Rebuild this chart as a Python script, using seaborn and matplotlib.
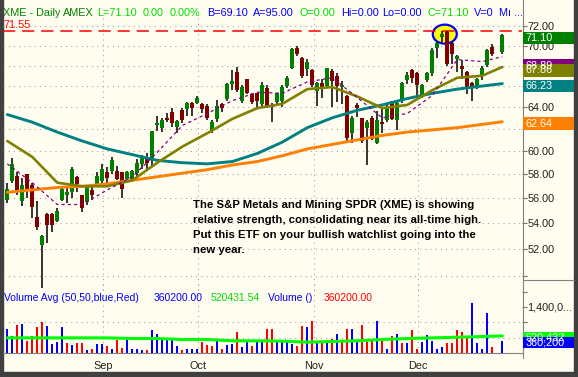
#!/usr/bin/env python3
# -*- coding: utf-8 -*-

# Grafico diario do XME (candles + medias + volume), recriado a partir da imagem

#Bibliotecas
import numpy as np
import pandas as pd
import seaborn as sns
import matplotlib.pyplot as plt
from matplotlib import transforms
from matplotlib.patches import Rectangle, Ellipse
from matplotlib.lines import Line2D
from matplotlib.ticker import NullLocator

# Dados (um candle por pregao, None = dia sem pregao)
v_abertura = [55.9, 57.4, 57.9, 55.8, 58.0, 57.1, 54.5, 52.3, 54.7, 54.7,
              54.2, 55.9, 56.3, 56.5, 57.8, 56.3, 55.7, 56.7, 57.2, 57.4,
              58.2, 58.3, 58.3, 58.2, 57.6, 57.6, 58.1, 58.9, 59.3, 59.4,
              62.3, 62.1, 63.0, 63.5, 62.2, 63.7, 63.8, 64.4, 64.4, 64.3,
              64.1, 61.8, 62.9, 64.3, 64.8, 66.2, 67.4, 64.6, 66.7, 65.2,
              65.3, 64.3, 65.8, 64.2, 64.5, 64.6, 66.0, 67.8, 69.8, 68.8,
              67.7, 67.6, 65.5, 66.3, 66.0, 67.5, 67.0, 65.9, 65.0, 61.6,
              64.2, 63.0, 62.1, 63.0, 60.7, 62.6, 62.8, 64.6, 62.8, 64.6,
              66.6, 67.6, 67.3, 65.1, 66.6, 67.3, 69.8, 70.9, 71.4, 70.3,
              68.7, 68.0, 67.4, 66.3, 65.8, 67.0, 68.1, 69.9, None, 69.4]
v_maxima = [57.3, 59.4, 58.2, 57.7, 58.0, 57.3, 55.8, 53.1, 54.8, 54.8,
            55.2, 57.0, 57.0, 58.6, 57.9, 56.3, 57.0, 56.9, 58.2, 58.9,
            58.6, 59.5, 58.7, 58.2, 58.3, 58.4, 59.3, 59.7, 59.8, 61.8,
            63.2, 63.0, 63.4, 63.9, 62.8, 63.9, 64.5, 64.5, 65.0, 64.4,
            64.3, 62.8, 64.7, 64.4, 66.3, 67.6, 67.9, 66.1, 66.7, 65.3,
            65.3, 66.4, 66.1, 64.4, 65.3, 66.1, 67.0, 69.8, 70.0, 68.9,
            68.7, 67.7, 66.4, 66.7, 67.8, 67.7, 67.3, 66.5, 65.1, 63.2,
            64.4, 63.0, 62.8, 63.2, 63.6, 64.0, 64.2, 64.6, 64.7, 66.4,
            67.4, 67.7, 67.4, 66.2, 67.4, 69.8, 70.4, 71.5, 71.55, 70.4,
            69.1, 68.6, 67.5, 66.4, 66.8, 68.0, 69.7, 70.2, None, 71.2]
v_minima = [55.6, 57.3, 56.3, 55.4, 56.0, 54.4, 53.5, 49.1, 52.5, 53.3,
            54.1, 55.8, 55.6, 56.0, 56.5, 54.9, 55.5, 55.9, 56.9, 56.9,
            57.3, 58.0, 57.5, 56.0, 57.4, 57.5, 57.9, 58.5, 58.5, 58.6,
            61.8, 61.7, 62.6, 62.2, 61.6, 62.5, 63.2, 63.2, 64.3, 63.4,
            62.8, 61.6, 62.6, 63.5, 64.6, 65.6, 65.4, 64.4, 65.2, 64.3,
            63.9, 64.1, 63.9, 62.6, 64.1, 64.0, 65.8, 67.7, 69.0, 66.8,
            67.0, 65.9, 64.1, 64.9, 65.9, 64.0, 64.5, 64.3, 60.7, 60.7,
            63.1, 60.7, 58.8, 61.0, 60.6, 61.6, 62.6, 62.8, 61.9, 64.4,
            66.2, 66.3, 65.0, 64.9, 66.4, 67.0, 68.8, 70.4, 68.0, 68.2,
            67.4, 66.7, 65.2, 64.6, 65.7, 66.6, 67.9, 69.0, None, 69.2]
v_fechamento = [56.8, 58.9, 56.7, 57.1, 56.8, 55.3, 53.7, 53.0, 53.9, 53.9,
                55.0, 56.8, 56.5, 58.5, 57.2, 55.2, 56.9, 56.3, 57.9, 58.5,
                57.7, 59.2, 57.6, 56.8, 58.2, 58.3, 59.0, 59.5, 59.0, 61.8,
                62.5, 62.8, 62.8, 62.5, 62.7, 62.8, 64.4, 63.9, 64.9, 63.8,
                63.0, 62.6, 64.1, 63.9, 66.2, 66.5, 65.6, 65.9, 65.3, 64.5,
                64.6, 66.1, 64.1, 64.0, 65.3, 65.9, 66.8, 69.7, 69.2, 67.0,
                68.4, 66.1, 66.3, 65.9, 67.8, 66.5, 66.0, 66.1, 61.2, 63.0,
                63.9, 60.9, 62.6, 61.1, 62.8, 62.4, 63.9, 62.9, 64.4, 66.3,
                67.1, 66.8, 66.1, 66.1, 67.3, 69.6, 70.3, 71.2, 68.2, 69.2,
                69.0, 67.7, 65.8, 66.0, 66.7, 67.8, 69.6, 69.2, None, 71.1]
v_volume = [740000, 510000, 860000, 870000, 350000, 510000, 790000, 930000, 810000, 280000,
            330000, 780000, 300000, 230000, 300000, 300000, 100000, 110000, 260000, 260000,
            200000, 110000, 410000, 150000, 410000, 110000, 110000, 80000, 80000, 690000,
            590000, 380000, 380000, 380000, 210000, 80000, 130000, 110000, 130000, 330000,
            230000, 210000, 440000, 130000, 250000, 260000, 640000, 180000, 380000, 210000,
            410000, 410000, 740000, 720000, 360000, 330000, 330000, 260000, 210000, 810000,
            790000, 970000, 360000, 310000, 330000, 440000, 570000, 360000, 740000, 740000,
            330000, 840000, 440000, 380000, 960000, 410000, 110000, 510000, 570000, 310000,
            310000, 690000, 130000, 330000, 540000, 350000, 130000, 180000, 300000, 300000,
            690000, 640000, 490000, 1520000, 300000, 130000, 1220000, 180000, None, 360200]
# b = volume azul (alta), r = volume vermelho (baixa), - = sem pregao
v_cor_volume = ("bbrbrrrrbb" "bbrbrrbrbb" "rbrrbbbbrb" "bbbbbrbbb" +
                "rrrbrbbrbbrbbrrbbbbrr" + "brbrbrbrrbbrrrbrbrbr" +
                "brrbbbbbrrrrrbbbbr" + "-b")

# Medias moveis lidas a cada 5 pregoes
v_idx_media = [0, 5, 10, 15, 20, 25, 30, 35, 40, 45, 50, 55, 60, 65, 70, 75, 80, 85, 90, 95, 99]
v_media_10 = [58.9, 57.3, 55.5, 55.5, 56.7, 57.8, 59.9, 62.3, 63.4, 64.6, 65.4,
              65.3, 66.4, 66.8, 64.9, 63.0, 63.4, 65.1, 68.6, 68.4, 68.9]
v_media_20 = [60.9, 59.5, 57.3, 57.0, 57.0, 57.5, 59.0, 60.4, 61.6, 62.9, 63.9,
              64.3, 65.7, 65.9, 65.0, 63.9, 64.2, 65.6, 66.8, 67.0, 67.86]
v_media_50 = [63.3, 62.6, 61.7, 60.9, 60.2, 59.7, 59.2, 59.0, 58.9, 59.1, 59.8,
              60.8, 62.1, 63.0, 63.7, 64.2, 64.8, 65.3, 65.7, 66.0, 66.23]
v_media_200 = [56.5, 56.7, 56.9, 57.0, 57.2, 57.5, 57.8, 58.1, 58.4, 58.8, 59.1,
               59.6, 60.2, 60.6, 61.0, 61.4, 61.7, 61.9, 62.1, 62.4, 62.64]
v_media_volume = [460000, 460000, 460000, 460000, 460000, 440000, 440000, 410000, 410000, 370000, 370000,
                  360000, 330000, 350000, 370000, 410000, 440000, 460000, 480000, 500000, 520431]

v_meses = ['Sep', 'Oct', 'Nov', 'Dec']
v_pos_meses = [19.1, 38.1, 61.3, 82.1]
v_ticks_preco = [50, 52, 54, 56, 58, 60, 62, 64, 66, 68, 70, 72]
v_ticks_cobertos = [62, 66, 68]   # rotulos escondidos pelas caixas coloridas
v_maxima_historica = 71.55

v_texto = ["The S&P Metals and Mining SPDR (XME) is showing",
           "relative strength, consolidating near its all-time high.",
           "Put this ETF on your bullish watchlist going into the",
           "new year."]

# Cores
v_creme = '#FFFCF0'
v_borda = '#404040'
v_verde = '#008000'
v_vermelho = '#800000'
v_lima = '#00DD00'
v_azul = '#0000FF'
v_cinza = '#A0A0A0'

# Configuracao
sns.set_style('white')
plt.rcParams['font.family'] = ['Liberation Sans', 'DejaVu Sans']

W, H = 578, 377
def px_x(v_x):
    return v_x / W
def px_y(v_y):
    return 1 - v_y / H

fig = plt.figure(figsize=(W / 100, H / 100), dpi=100, facecolor=v_creme)

# bordas escuras
fig.add_artist(Rectangle((0, 0), px_x(3), 1, transform=fig.transFigure, color=v_borda, zorder=0))
fig.add_artist(Rectangle((px_x(574), 0), 1, 1, transform=fig.transFigure, color=v_borda, zorder=0))
fig.add_artist(Rectangle((0, 0), 1, px_y(372), transform=fig.transFigure, color=v_borda, zorder=0))

ax = fig.add_axes([px_x(3), px_y(290), 519 / W, 272 / H])
ax_v = fig.add_axes([px_x(3), px_y(353), 519 / W, 71 / H])
for a in (ax, ax_v):
    a.set_facecolor('none')
    for s in a.spines.values():
        s.set_visible(False)
    a.set_xlim(-0.86, 102.94)

ax.set_yscale('log')
ax.set_ylim(48.98, 72.90)
ax_v.set_ylim(0, 71 / 32.9 * 1e6)

# Tabela dos candles
df = pd.DataFrame({'abertura': v_abertura, 'maxima': v_maxima, 'minima': v_minima,
                   'fechamento': v_fechamento, 'volume': v_volume,
                   'cor_vol': list(v_cor_volume)}, dtype=object)
df['dia'] = np.arange(len(df))
df = df.dropna().copy()
for c in ['abertura', 'maxima', 'minima', 'fechamento', 'volume']:
    df[c] = df[c].astype(float)

# grades pontilhadas
for t in v_ticks_preco:
    ax.axhline(t, color=v_cinza, lw=0.75, ls=(0, (1, 4)), zorder=0)
for m in v_pos_meses:
    ax.axvline(m, color=v_cinza, lw=0.75, ls=(0, (1, 4)), zorder=0)
    ax_v.axvline(m, color=v_cinza, lw=0.75, ls=(0, (1, 4)), zorder=0)
for t in [466667, 933333]:
    ax_v.axhline(t, color=v_cinza, lw=0.75, ls=(0, (1, 4)), zorder=0)

# linha da maxima historica
ax.axhline(v_maxima_historica, color='#FF0000', lw=1.1, ls=(0, (8, 4.5)), zorder=2)
ax.annotate(f'{v_maxima_historica:.2f}', xy=(0, v_maxima_historica), xycoords=('axes fraction', 'data'),
            xytext=(0.5, 4.5), textcoords='offset points', color='#FF0000', fontsize=7.8,
            ha='left', va='center')

# destaque amarelo na maxima
v_trans = fig.dpi_scale_trans + transforms.ScaledTranslation(87.5, 71.2, ax.transData)
ax.add_patch(Ellipse((0, 0), 0.24, 0.19, transform=v_trans, facecolor='#FFFF00',
                     edgecolor=v_azul, lw=1.6, zorder=1, clip_on=False))

# candles
v_alta = df['fechamento'] >= df['abertura']
ax.vlines(df['dia'], df['minima'], df['maxima'], color='black', lw=1.1, zorder=3, clip_on=False)
v_base = df[['abertura', 'fechamento']].min(axis=1)
v_altura = (df['fechamento'] - df['abertura']).abs().clip(lower=0.08)
ax.bar(df['dia'], v_altura, bottom=v_base, width=0.82, lw=0,
       color=np.where(v_alta, v_verde, v_vermelho), zorder=4)

# medias moveis
sns.lineplot(x=v_idx_media, y=v_media_200, ax=ax, color='#FF8000', lw=2.1, zorder=5)
sns.lineplot(x=v_idx_media, y=v_media_50, ax=ax, color='#008080', lw=2.1, zorder=5)
sns.lineplot(x=v_idx_media, y=v_media_20, ax=ax, color='#808000', lw=1.9, zorder=5)
sns.lineplot(x=v_idx_media, y=v_media_10, ax=ax, color='#800080', lw=0.9, zorder=5)
ax.lines[-1].set_dashes([2.5, 2.5])

# volume
ax_v.bar(df['dia'], df['volume'], width=0.42, lw=0,
         color=np.where(df['cor_vol'] == 'b', v_azul, '#FF0000'), zorder=3)
sns.lineplot(x=v_idx_media, y=v_media_volume, ax=ax_v, color='#00FF00', lw=2.2, zorder=4)

# eixos
ax.yaxis.tick_right()
ax.set_yticks(v_ticks_preco, ['' if (t == 50 or t in v_ticks_cobertos) else f'{t:.2f}'
                              for t in v_ticks_preco])
ax.yaxis.set_minor_locator(NullLocator())
ax.tick_params(axis='y', which='major', direction='out', length=3.5, width=0.8,
               color='#707070', labelcolor='#202020', labelsize=7.8, pad=0.5)
ax.tick_params(axis='x', which='both', bottom=False, labelbottom=False)
ax.set_xlabel('')
ax.set_ylabel('')

ax_v.yaxis.tick_right()
ax_v.set_yticks([466667, 933333, 1400000, 1866667], ['', '', '1,400,0...', ''])
ax_v.tick_params(axis='y', direction='out', length=3.5, width=0.8,
                 color='#707070', labelcolor='#202020', labelsize=7.8, pad=0.5)
ax_v.spines['bottom'].set_visible(True)
ax_v.spines['bottom'].set_color('#808080')
ax_v.spines['bottom'].set_linewidth(0.8)
ax_v.set_xticks(v_pos_meses, v_meses)
ax_v.set_xticks([m for m in np.arange(3.2, 103, 5) if min(abs(m - p) for p in v_pos_meses) > 2],
                minor=True)
ax_v.tick_params(axis='x', which='both', direction='out', color='#707070', width=0.8,
                 labelcolor='#202020', labelsize=7.8, pad=2)
ax_v.tick_params(axis='x', which='major', length=4)
ax_v.tick_params(axis='x', which='minor', length=3)
ax_v.set_xlabel('')
ax_v.set_ylabel('')

# linhas do painel da direita
fig.add_artist(Line2D([px_x(522.5)] * 2, [px_y(0), px_y(358)], transform=fig.transFigure,
                      color='#808080', lw=0.8))
fig.add_artist(Line2D([px_x(522.5), px_x(574)], [px_y(280)] * 2, transform=fig.transFigure,
                      color='#808080', lw=0.8))

# caixas com os ultimos valores
def caixa(v_eixo, v_valor, v_txt, v_cor, v_desloc, v_alt):
    v_y = H - v_eixo.transData.transform((0, v_valor))[1] + v_desloc
    fig.add_artist(Rectangle((px_x(522.5), px_y(v_y + v_alt / 2)), 51.5 / W, v_alt / H,
                             transform=fig.transFigure, facecolor=v_cor, edgecolor='none', zorder=10))
    fig.text(px_x(526), px_y(v_y), v_txt, color='white', fontsize=7.8, va='center', ha='left', zorder=11)

caixa(ax, v_fechamento[-1], f'{v_fechamento[-1]:.2f}', v_verde, 3, 12.5)
caixa(ax, v_media_10[-1], '68.89', '#800080', 9.5, 14)
caixa(ax, v_media_20[-1], f'{v_media_20[-1]:.2f}', '#808000', 3, 13)
caixa(ax, v_media_50[-1], f'{v_media_50[-1]:.2f}', '#008080', 2.5, 12.5)
caixa(ax, v_media_200[-1], f'{v_media_200[-1]:.2f}', '#FF8000', 2, 13)
caixa(ax_v, v_media_volume[-1], '520,432', '#00FF00', 1.3, 11)
caixa(ax_v, v_volume[-1], '360,200', v_azul, 1.7, 11)

# cabecalho
v_cabecalho = [('XME - Daily', 3, v_verde), ('AMEX', 63, v_verde), ('L=71.10', 97, v_lima),
               ('0.00', 143, v_lima), ('0.00%', 170, v_lima), ('B=69.10', 207, v_azul),
               ('A=95.00', 253, v_azul), ('O=0.00', 300, v_lima), ('Hi=0.00', 341, v_azul),
               ('Lo=0.00', 382, v_azul), ('C=71.10', 428, v_lima), ('V=0', 474, v_azul),
               ('M\u0131 ...', 499, v_azul)]
for v_txt, v_x, v_cor in v_cabecalho:
    fig.text(px_x(v_x), px_y(16.5), v_txt, color=v_cor, fontsize=7.8, va='baseline', ha='left')

v_linha_volume = [('Volume Avg (50,50,blue,Red)', 3.7, v_azul), ('360200.00', 154, v_azul),
                  ('520431.54', 211, v_lima), ('Volume ()', 268, v_azul), ('360200.00', 324, '#FF0000')]
for v_txt, v_x, v_cor in v_linha_volume:
    fig.text(px_x(v_x), px_y(301), v_txt, color=v_cor, fontsize=7.5, va='baseline', ha='left')

# comentario
for k, v_linha in enumerate(v_texto):
    fig.text(px_x(193), px_y(208.3 + 15 * k), v_linha, color='black', fontsize=8.2,
             fontweight='bold', va='baseline', ha='left')

fig.savefig('out.png', dpi=100, facecolor=fig.get_facecolor())
